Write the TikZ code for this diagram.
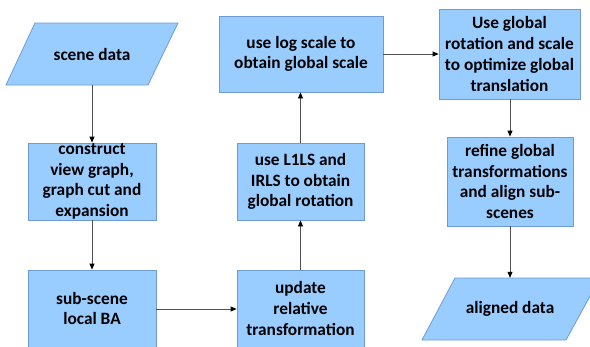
\documentclass[tikz,border=0pt]{standalone}
\usepackage{fontspec}
\setmainfont{Carlito}
\usetikzlibrary{arrows.meta}
\definecolor{boxfill}{HTML}{99CCFF}
\definecolor{boxline}{HTML}{6E9BD6}
\definecolor{arrowgray}{HTML}{505050}
\tikzset{
  procbox/.style={draw=boxline, fill=boxfill, line width=0.8pt, rectangle,
    align=center, inner sep=0pt,
    font=\fontsize{17.3}{20.7}\selectfont\bfseries},
  datatext/.style={inner sep=0pt, align=center,
    font=\fontsize{17.3}{20.7}\selectfont\bfseries},
  datashape/.style={draw=boxline, fill=boxfill, line width=0.8pt},
  flow/.style={draw=arrowgray, line width=0.8pt,
    -{Triangle[length=6pt,width=5pt,color=black]}}
}
\begin{document}
\begin{tikzpicture}[x=1pt,y=-1pt]
\useasboundingbox (0,0) rectangle (590,346);

% input and output data (parallelograms)
\draw[datashape] (35,23) -- (178,23) -- (148,85) -- (6,85) -- cycle;
\node[datatext, minimum height=62pt, minimum width=100pt] (scene) at (92,54) {scene data};
\draw[datashape] (455,278) -- (600,278) -- (566,340) -- (422,340) -- cycle;
\node[datatext, minimum height=62pt, minimum width=100pt] (aligned) at (510,309) {aligned data};

% processing steps
\node[procbox, minimum width=128pt, minimum height=77pt] (construct) at (92,181.5)
  {construct\\view graph,\\graph cut and\\expansion};
\node[procbox, minimum width=128pt, minimum height=77pt] (subscene) at (92,308.5)
  {sub-scene\\local BA};
\node[procbox, minimum width=127pt, minimum height=77pt] (update) at (300.5,308.5)
  {update\\relative\\transformation};
\node[procbox, minimum width=127pt, minimum height=77pt] (rotation) at (300.5,181.5)
  {use L1LS and\\IRLS to obtain\\global rotation};
\node[procbox, minimum width=164pt, minimum height=76pt] (logscale) at (301,54)
  {use log scale to\\obtain global scale};
\node[procbox, minimum width=141pt, minimum height=90pt] (translation) at (509.5,54)
  {Use global\\rotation and scale\\to optimize global\\translation};
\node[procbox, minimum width=126pt, minimum height=89pt] (refine) at (510,181.5)
  {refine global\\transformations\\and align sub-\\scenes};

% flow between steps
\draw[flow] (scene.south) -- (construct.north);
\draw[flow] (construct.south) -- (subscene.north);
\draw[flow] (subscene.east |- 0,309) -- (update.west |- 0,309);
\draw[flow] (update.north) -- (rotation.south);
\draw[flow] (rotation.north) -- (logscale.south -| rotation.north);
\draw[flow] (logscale.east) -- (translation.west);
\draw[flow] (translation.south -| refine.north) -- (refine.north);
\draw[flow] (refine.south) -- (aligned.north);
\end{tikzpicture}
\end{document}
